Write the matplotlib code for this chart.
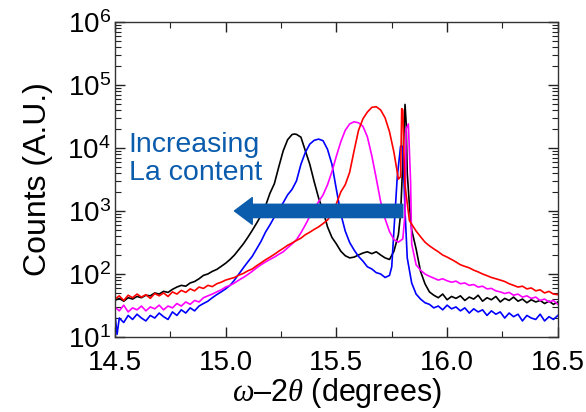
import matplotlib
matplotlib.use('Agg')
import matplotlib.pyplot as plt
from matplotlib.ticker import LogLocator, FormatStrFormatter, MultipleLocator

plt.rcParams['font.family'] = ['Liberation Sans', 'DejaVu Sans']
plt.rcParams['mathtext.fontset'] = 'custom'
plt.rcParams['mathtext.rm'] = 'Liberation Sans'
plt.rcParams['mathtext.it'] = 'Liberation Serif:italic'

# --- data (2theta in degrees, counts) ---
black_x = [14.50, 14.52, 14.54, 14.56, 14.58, 14.60, 14.62, 14.64, 14.66, 14.68,
           14.70, 14.72, 14.74, 14.76, 14.78, 14.80, 14.82, 14.84, 14.86, 14.88,
           14.90, 14.92, 14.94, 14.96, 14.98, 15.00, 15.02, 15.04, 15.06, 15.08,
           15.10, 15.12, 15.14, 15.16, 15.18, 15.20, 15.22, 15.24, 15.26, 15.28,
           15.30, 15.31, 15.32, 15.34, 15.36, 15.38, 15.40, 15.42, 15.44, 15.46,
           15.48, 15.50, 15.52, 15.54, 15.56, 15.58, 15.60, 15.62, 15.64, 15.66,
           15.68, 15.70, 15.72, 15.74, 15.76, 15.78, 15.79, 15.80, 15.81, 15.815,
           15.82, 15.83, 15.84, 15.86, 15.88, 15.90, 15.92, 15.94, 15.96, 15.98,
           16.00, 16.02, 16.04, 16.06, 16.08, 16.10, 16.12, 16.14, 16.16, 16.18,
           16.20, 16.22, 16.24, 16.26, 16.28, 16.30, 16.32, 16.34, 16.36, 16.38,
           16.40, 16.42, 16.44, 16.46, 16.48, 16.50]
black_y = [38, 41, 37, 42, 40, 44, 42, 46, 45, 50,
           48, 53, 51, 57, 62, 66, 64, 72, 76, 84,
           95, 100, 110, 118, 132, 148, 170, 200, 245, 300,
           380, 490, 640, 850, 1200, 1900, 2700, 5000, 9000, 13500,
           16300, 16600, 16400, 14800, 9000, 5500, 2900, 1600, 1000, 560,
           380, 300, 230, 195, 180, 185, 200, 215, 225, 210,
           225, 200, 180, 170, 230, 420, 900, 6000, 49000, 25000,
           4000, 1200, 500, 250, 110, 70, 52, 46, 42, 48,
           39, 44, 41, 45, 38, 43, 40, 46, 37, 42,
           39, 44, 36, 41, 38, 43, 37, 40, 35, 39,
           36, 38, 34, 37, 33, 36]

blue_x = [14.50, 14.51, 14.52, 14.54, 14.56, 14.58, 14.60, 14.62, 14.64, 14.66,
          14.68, 14.70, 14.72, 14.74, 14.76, 14.78, 14.80, 14.82, 14.84, 14.86,
          14.88, 14.90, 14.92, 14.94, 14.96, 14.98, 15.00, 15.02, 15.04, 15.06,
          15.08, 15.10, 15.12, 15.14, 15.16, 15.18, 15.20, 15.22, 15.24, 15.26,
          15.28, 15.30, 15.32, 15.34, 15.36, 15.38, 15.40, 15.42, 15.44, 15.46,
          15.48, 15.50, 15.52, 15.54, 15.56, 15.58, 15.60, 15.62, 15.64, 15.66,
          15.68, 15.70, 15.72, 15.74, 15.75, 15.76, 15.775, 15.79, 15.80, 15.81,
          15.82, 15.84, 15.86, 15.88, 15.90, 15.92, 15.94, 15.96, 15.98, 16.00,
          16.02, 16.04, 16.06, 16.08, 16.10, 16.12, 16.14, 16.16, 16.18, 16.20,
          16.22, 16.24, 16.26, 16.28, 16.30, 16.32, 16.34, 16.36, 16.38, 16.40,
          16.42, 16.44, 16.46, 16.48, 16.50]
blue_y = [24, 11, 20, 17, 22, 19, 23, 20, 18, 22,
          20, 24, 21, 19, 25, 22, 27, 24, 29, 26,
          31, 34, 37, 42, 47, 52, 58, 66, 80, 100,
          125, 155, 190, 250, 330, 460, 600, 800, 1050, 1350,
          1800, 2200, 3000, 5500, 8500, 11500, 13200, 13800, 13000, 9500,
          5500, 2200, 900, 480, 316, 240, 190, 160, 130, 120,
          105, 100, 88, 95, 130, 500, 3500, 10700, 10500, 1000,
          180, 72, 48, 40, 35, 33, 29, 31, 27, 32,
          28, 30, 26, 29, 24, 28, 25, 27, 22, 26,
          23, 25, 20, 24, 21, 23, 18, 22, 20, 19,
          23, 18, 21, 19, 22]

magenta_x = [14.50, 14.52, 14.54, 14.56, 14.58, 14.60, 14.62, 14.64, 14.66, 14.68,
             14.70, 14.72, 14.74, 14.76, 14.78, 14.80, 14.82, 14.84, 14.86, 14.88,
             14.90, 14.92, 14.94, 14.96, 14.98, 15.00, 15.02, 15.04, 15.06, 15.08,
             15.10, 15.12, 15.14, 15.16, 15.18, 15.20, 15.22, 15.24, 15.26, 15.28,
             15.30, 15.32, 15.34, 15.36, 15.38, 15.40, 15.42, 15.44, 15.46, 15.48,
             15.50, 15.52, 15.54, 15.56, 15.58, 15.60, 15.62, 15.64, 15.66, 15.68,
             15.70, 15.72, 15.74, 15.76, 15.78, 15.80, 15.81, 15.815, 15.825, 15.835,
             15.84, 15.86, 15.88, 15.90, 15.92, 15.94, 15.96, 15.98, 16.00, 16.02,
             16.04, 16.06, 16.08, 16.10, 16.12, 16.14, 16.16, 16.18, 16.20, 16.22,
             16.24, 16.26, 16.28, 16.30, 16.32, 16.34, 16.36, 16.38, 16.40, 16.42,
             16.44, 16.46, 16.48, 16.50]
magenta_y = [30, 26, 32, 25, 29, 27, 31, 26, 30, 28,
             32, 27, 31, 29, 34, 31, 36, 33, 38, 36,
             42, 45, 48, 52, 56, 62, 66, 72, 80, 88,
             98, 110, 125, 140, 155, 170, 185, 205, 225, 260,
             300, 350, 450, 600, 820, 1100, 1400, 1800, 2600, 4200,
             7400, 12500, 19000, 24000, 26000, 25000, 22000, 15000, 7500, 3300,
             1400, 750, 470, 350, 320, 360, 900, 20000, 24000, 3000,
             300, 140, 115, 100, 92, 86, 80, 84, 78, 74,
             77, 70, 72, 66, 68, 62, 64, 58, 59, 54,
             52, 49, 51, 46, 48, 43, 45, 41, 43, 38,
             40, 36, 38, 33]

red_x = [14.50, 14.52, 14.54, 14.56, 14.58, 14.60, 14.62, 14.64, 14.66, 14.68,
         14.70, 14.72, 14.74, 14.76, 14.78, 14.80, 14.82, 14.84, 14.86, 14.88,
         14.90, 14.92, 14.94, 14.96, 14.98, 15.00, 15.02, 15.04, 15.06, 15.08,
         15.10, 15.12, 15.14, 15.16, 15.18, 15.20, 15.22, 15.24, 15.26, 15.28,
         15.30, 15.32, 15.34, 15.36, 15.38, 15.40, 15.42, 15.44, 15.46, 15.48,
         15.50, 15.52, 15.54, 15.56, 15.58, 15.60, 15.62, 15.64, 15.66, 15.68,
         15.70, 15.72, 15.74, 15.76, 15.78, 15.79, 15.795, 15.80, 15.805, 15.81,
         15.83, 15.86, 15.88, 15.90, 15.92, 15.94, 15.96, 15.98, 16.00, 16.02,
         16.04, 16.06, 16.08, 16.10, 16.12, 16.14, 16.16, 16.18, 16.20, 16.22,
         16.24, 16.26, 16.28, 16.30, 16.32, 16.34, 16.36, 16.38, 16.40, 16.42,
         16.44, 16.46, 16.48, 16.50]
red_y = [40, 45, 38, 46, 42, 48, 43, 47, 41, 49,
         45, 50, 44, 52, 48, 55, 51, 58, 54, 62,
         59, 66, 63, 70, 74, 80, 84, 88, 96, 102,
         112, 120, 135, 150, 168, 185, 205, 230, 255, 285,
         310, 340, 370, 420, 460, 510, 560, 630, 720, 900,
         1300, 2000, 2600, 4100, 9000, 19000, 29000, 37000, 44000, 45000,
         40000, 30000, 18000, 8500, 3200, 3500, 42000, 40000, 8000, 2500,
         700, 480, 390, 320, 280, 250, 225, 200, 185, 170,
         155, 140, 132, 125, 115, 108, 100, 94, 88, 84,
         80, 76, 70, 66, 62, 64, 58, 60, 54, 56,
         50, 53, 48, 47]

fig = plt.figure(figsize=(5.86, 4.12), dpi=100)
ax = fig.add_axes([0.196, 0.182, 0.756, 0.765])

ax.plot(black_x, black_y, color='black', lw=1.2)
ax.plot(blue_x, blue_y, color='#0000ff', lw=1.2)
ax.plot(magenta_x, magenta_y, color='#ff00ff', lw=1.2)
ax.plot(red_x, red_y, color='#ff0000', lw=1.2)

ax.set_yscale('log')
ax.set_xlim(14.5, 16.5)
ax.set_ylim(10, 1e6)
ax.xaxis.set_major_locator(MultipleLocator(0.5))
ax.xaxis.set_minor_locator(MultipleLocator(0.25))
ax.xaxis.set_major_formatter(FormatStrFormatter('%.1f'))
ax.yaxis.set_major_locator(LogLocator(base=10, numticks=10))
ax.yaxis.set_minor_locator(LogLocator(base=10, subs=range(2, 10), numticks=20))
ax.tick_params(which='both', direction='in', top=True, right=True,
               labelsize=20, colors='#222222', labelcolor='black')
ax.tick_params(which='major', length=7, width=1)
ax.tick_params(which='minor', length=4, width=0.8)
ax.tick_params(axis='x', which='major', pad=9)
ax.tick_params(axis='y', which='major', pad=3)
for s in ax.spines.values():
    s.set_linewidth(1.0)
    s.set_color('#333333')

ax.set_xlabel(r'$\omega$' + '\u20132' + r'$\theta$' + ' (degrees)', fontsize=22, labelpad=0)
ax.set_ylabel('Counts (A.U.)', fontsize=23, labelpad=10)

arrow_col = '#0b5cad'
ax.annotate('', xy=(15.04, 1000), xytext=(15.80, 1000),
            arrowprops=dict(arrowstyle='simple,head_length=1.6,head_width=2.4,tail_width=1.2',
                            color=arrow_col, shrinkA=0, shrinkB=0, mutation_scale=8))
ax.text(14.563, 6600, 'Increasing\nLa content', color=arrow_col, fontsize=20.5,
        ha='left', va='center', linespacing=1.1)

fig.savefig('out.png', dpi=100)
